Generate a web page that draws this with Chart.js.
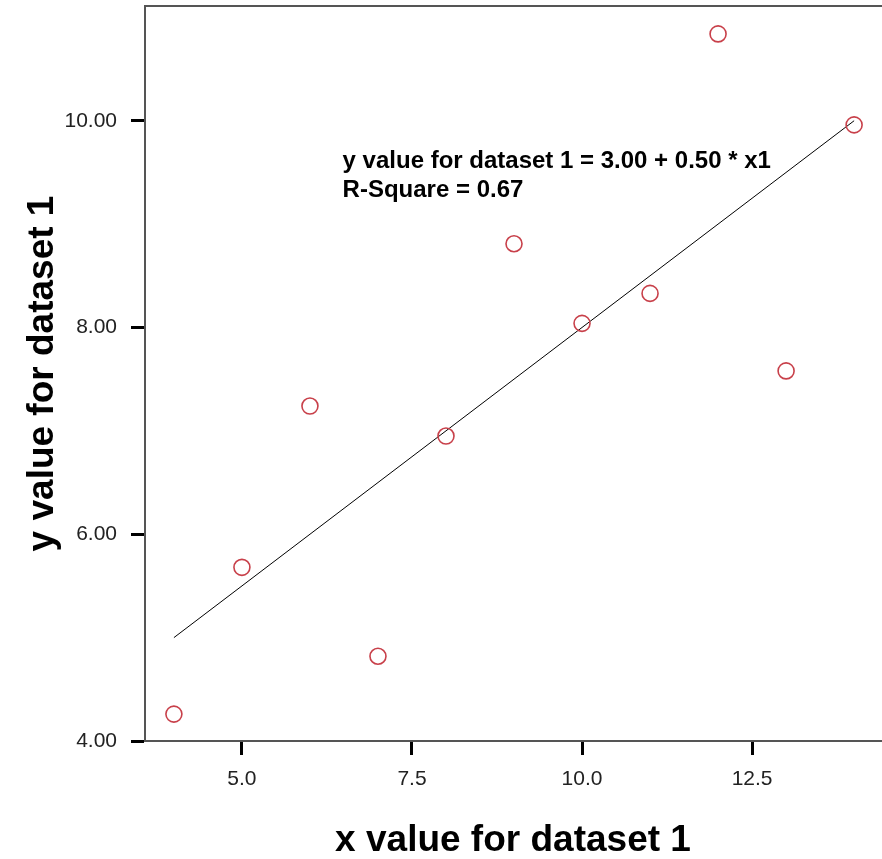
<!DOCTYPE html>
<html>
<head>
<meta charset="utf-8">
<script src="https://cdn.jsdelivr.net/npm/chart.js@4"></script>
<style>
  html, body { margin: 0; padding: 0; background: #fff; }
  canvas { display: block; }
</style>
</head>
<body>
<canvas id="grafico" width="882" height="859"></canvas>
<script>
// Datos (Anscombe, conjunto 1)
const valoresX = [10, 8, 13, 9, 11, 14, 6, 4, 12, 7, 5];
const valoresY = [8.04, 6.95, 7.58, 8.81, 8.33, 9.96, 7.24, 4.26, 10.84, 4.82, 5.68];

// Recta de regresión (extremos)
const rectaX = [4, 14];
const rectaY = [5.0, 10.0];

// Marcas de los ejes
const ticksX = [5, 7.5, 10, 12.5];
const ticksY = [4, 6, 8, 10];

// Textos
const tituloX = "x value for dataset 1";
const tituloY = "y value for dataset 1";
const ecuacion = ["y value for dataset 1 = 3.00 + 0.50 * x1", "R-Square = 0.67"];

const fuente = "'Liberation Sans', Arial, sans-serif";

// Títulos y anotación dibujados a mano
const textosPlugin = {
  id: 'textos',
  afterDraw(chart) {
    const ctx = chart.ctx;
    const area = chart.chartArea;
    const x = chart.scales.x;
    const y = chart.scales.y;
    ctx.save();

    // borde superior del marco
    ctx.strokeStyle = '#555';
    ctx.lineWidth = 2;
    ctx.beginPath();
    ctx.moveTo(area.left, area.top);
    ctx.lineTo(area.right, area.top);
    ctx.stroke();

    ctx.fillStyle = '#000';
    ctx.font = "bold 37px " + fuente;
    ctx.textAlign = 'center';
    ctx.textBaseline = 'alphabetic';
    ctx.fillText(tituloX, 513, 851);

    ctx.translate(53, (area.top + area.bottom) / 2);
    ctx.rotate(-Math.PI / 2);
    ctx.fillText(tituloY, 0, 0);
    ctx.restore();

    // ecuación
    ctx.save();
    ctx.fillStyle = '#000';
    ctx.font = "bold 24px " + fuente;
    ctx.textAlign = 'left';
    ctx.textBaseline = 'alphabetic';
    const px = x.getPixelForValue(6.48);
    const py = y.getPixelForValue(9.54);
    ctx.fillText(ecuacion[0], px, py);
    ctx.fillText(ecuacion[1], px, py + 29);
    ctx.restore();
  }
};

new Chart(document.getElementById('grafico'), {
  type: 'scatter',
  data: {
    datasets: [
      {
        label: 'Puntos',
        data: valoresX.map((v, i) => ({ x: v, y: valoresY[i] })),
        pointStyle: 'circle',
        pointRadius: 8,
        pointBorderColor: '#c8404a',
        pointBackgroundColor: 'rgba(0,0,0,0)',
        pointBorderWidth: 1.6,
        showLine: false
      },
      {
        label: 'Recta',
        type: 'line',
        data: rectaX.map((v, i) => ({ x: v, y: rectaY[i] })),
        borderColor: '#000',
        borderWidth: 1,
        pointRadius: 0,
        fill: false
      }
    ]
  },
  options: {
    responsive: false,
    animation: false,
    layout: { autoPadding: false, padding: { top: 6, right: 0, bottom: 0, left: 0 } },
    plugins: {
      legend: { display: false },
      tooltip: { enabled: false }
    },
    scales: {
      x: {
        type: 'linear',
        min: 3.575,
        max: 14.41,
        afterBuildTicks: s => { s.ticks = ticksX.map(v => ({ value: v })); },
        afterFit: s => { s.height = 118; s.paddingLeft = 0; s.paddingRight = 0; },
        ticks: {
          color: '#222',
          font: { family: fuente, size: 21 },
          padding: 12,
          callback: v => Number(v).toFixed(1)
        },
        grid: {
          drawOnChartArea: false,
          drawTicks: true,
          tickLength: 14,
          tickWidth: 3,
          tickColor: '#000'
        },
        border: { display: true, color: '#555', width: 2 }
      },
      y: {
        type: 'linear',
        min: 4,
        max: 11.11,
        afterBuildTicks: s => { s.ticks = ticksY.map(v => ({ value: v })); },
        afterFit: s => { s.width = 145; s.paddingTop = 0; s.paddingBottom = 0; },
        ticks: {
          color: '#222',
          font: { family: fuente, size: 21 },
          padding: 14,
          callback: v => Number(v).toFixed(2)
        },
        grid: {
          drawOnChartArea: false,
          drawTicks: true,
          tickLength: 14,
          tickWidth: 3,
          tickColor: '#000'
        },
        border: { display: true, color: '#555', width: 2 }
      }
    }
  },
  plugins: [textosPlugin]
});
</script>
</body>
</html>
